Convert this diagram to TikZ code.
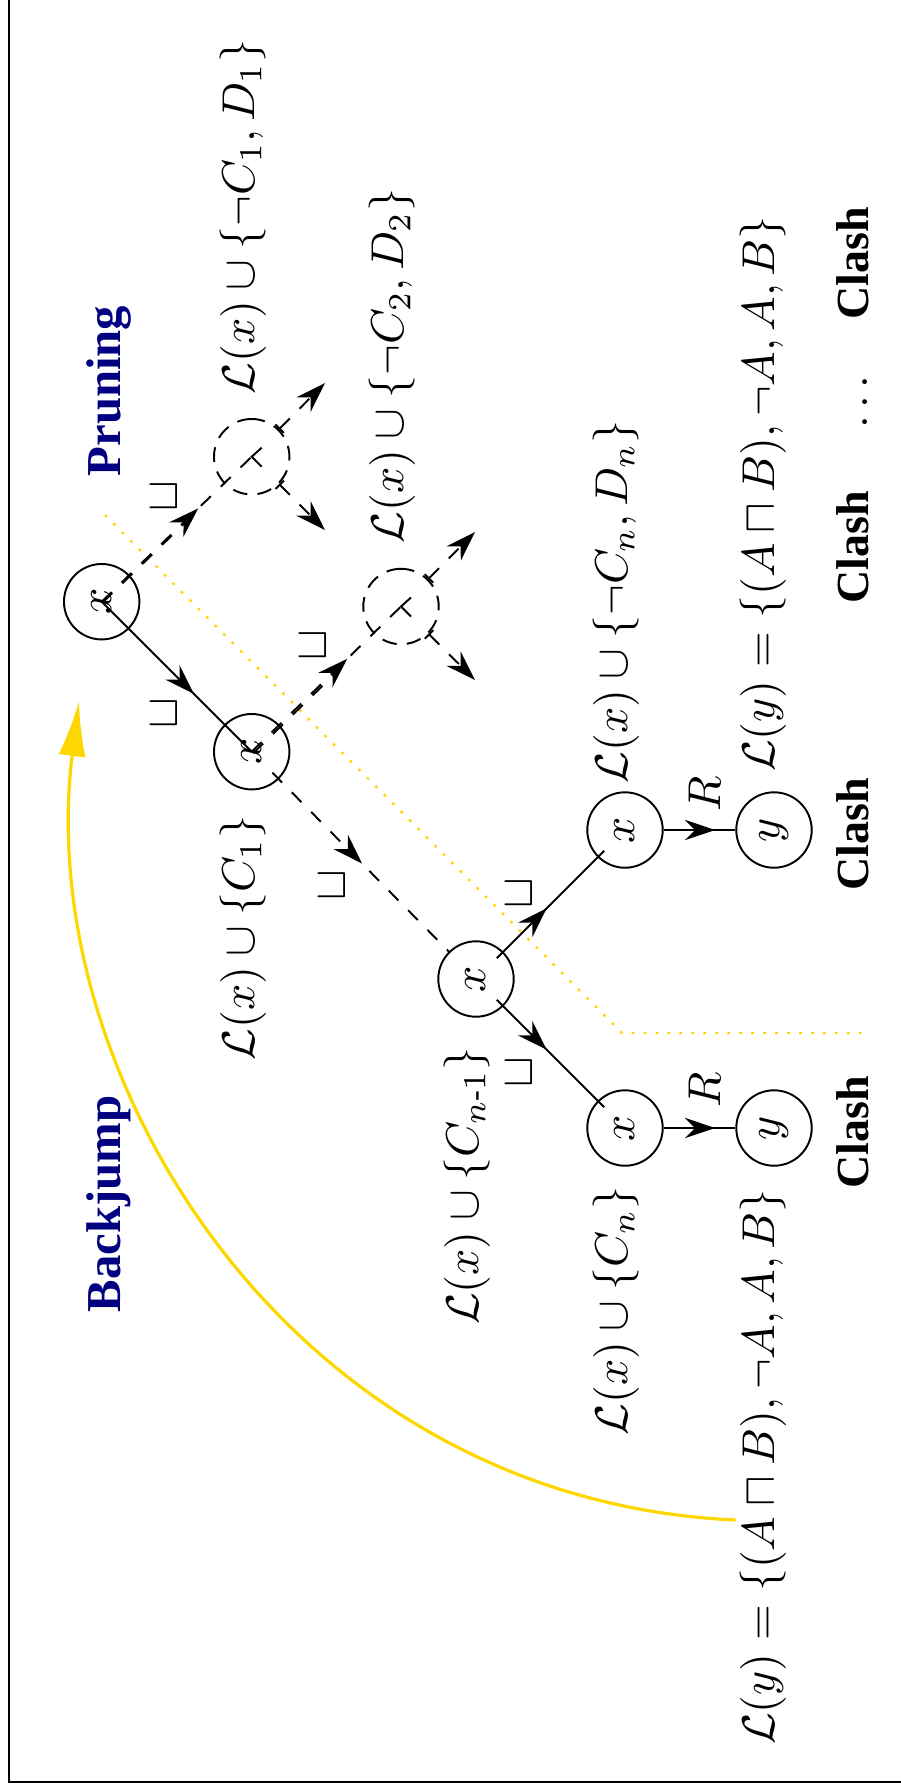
\documentclass[tikz,border=0pt]{standalone}
\usepackage{amsmath}
\usepackage[no-math]{fontspec}
\setmainfont{Liberation Serif}
\usetikzlibrary{arrows.meta,decorations.markings,calc}
\definecolor{navyc}{RGB}{0,0,128}
\definecolor{goldc}{RGB}{255,215,0}
\begin{document}
\begin{tikzpicture}[x=0.2174pt, y=-0.2174pt,
  vnode/.style={circle, draw, line width=0.42pt, minimum size=16.4pt, inner sep=0pt, rotate=90},
  dnode/.style={vnode, dash pattern=on 3.2pt off 2.2pt},
  lbl/.style={rotate=90, inner sep=0pt},
  boldlbl/.style={rotate=90, inner sep=0pt, font=\bfseries},
  titlelbl/.style={rotate=90, inner sep=0pt, text=navyc, font=\bfseries\fontsize{10.6}{12}\selectfont},
  solidln/.style={line width=0.42pt},
  dashln/.style={line width=0.42pt, dash pattern=on 3pt off 3pt},
  midarrow/.style={postaction={decorate}, decoration={markings, mark=at position #1 with {\arrow{Stealth[length=6.6pt,width=4.4pt,inset=2.2pt]}}}},
  endtip/.style={{Bar[width=2.6pt]}-{Stealth[length=6.6pt,width=4.4pt,inset=2.2pt]}},
]
\useasboundingbox (0,0) rectangle (901,1789);
% frame
\draw[line width=0.45pt] (8.7,0) -- (8.7,1781.7) -- (901,1781.7);

% yellow dotted pruning boundary
\coordinate (p1) at (105,515);
\coordinate (p2) at (622,1033);
\coordinate (p3) at (866,1033);
\draw[goldc, line width=0.5pt, dash pattern=on 0.6pt off 2pt] (p1) -- (p2) -- (p3);

% nodes
\node[vnode] (n1) at (101.7,601.7) {$x$};
\node[vnode] (n2) at (251.7,751.7) {$x$};
\node[dnode] (d1) at (251.7,456.7) {};
\node[dnode] (d2) at (401,606.5) {};
\node[vnode] (n3) at (476,979) {$x$};
\node[vnode] (n4) at (625,830) {$x$};
\node[vnode] (n5) at (625,1128) {$x$};
\node[vnode] (y1) at (774,830) {$y$};
\node[vnode] (y2) at (774,1128) {$y$};

\coordinate (d1a) at (325,383);
\coordinate (d1b) at (325,530);
\coordinate (d2a) at (475,532);
\coordinate (d2b) at (475,680);

% edges
\draw[solidln, midarrow=0.615] (n1.center) -- (n2.center);
\draw[dashln, midarrow=0.644] (n1.center) -- (d1.center);
\draw[dashln, transform canvas={shift={(0.8,0.8)}}] (n1.center) -- ($(n1.center)!0.6!(d1.center)$);
\draw[dashln, midarrow=0.64] (n2.center) -- (d2.center);
\draw[dashln, transform canvas={shift={(1.5,1.5)}}] (n2.center) -- ($(n2.center)!0.6!(d2.center)$);
\draw[dashln, midarrow=0.49, shorten <=-2pt] (n2) -- (n3);
\draw[solidln, midarrow=0.46, shorten <=-2pt, shorten >=-2pt] (n3) -- (n4);
\draw[solidln, midarrow=0.46, shorten <=-2pt, shorten >=-2pt] (n3) -- (n5);
\draw[solidln, midarrow=0.72] (n4) -- (y1);
\draw[solidln, midarrow=0.72] (n5) -- (y2);
\draw[dashln, endtip] (d1) -- (d1a);
\draw[dashln, endtip] (d1) -- (d1b);
\draw[dashln, endtip] (d2) -- (d2a);
\draw[dashln, endtip] (d2) -- (d2b);
\draw[solidln] ([shift={(10,-9)}]d1.center) -- (d1.center) -- ([shift={(10,10)}]d1.center);
\draw[solidln] ([shift={(10,-9)}]d2.center) -- (d2.center) -- ([shift={(10,10)}]d2.center);

% edge labels
\node[lbl] (s1) at (165,713) {$\sqcup$};
\node[lbl] (s2) at (165,496) {$\sqcup$};
\node[lbl] (s3) at (314,645) {$\sqcup$};
\node[lbl] (s4) at (333,885) {$\sqcup$};
\node[lbl] (s5) at (520,893) {$\sqcup$};
\node[lbl] (s6) at (520,1072) {$\sqcup$};
\node[lbl] (r1) at (705,794) {$R$};
\node[lbl] (r2) at (705,1090) {$R$};

% label sets
\node[lbl] (t1) at (243,217) {$\mathcal{L}(x)\cup\{\neg C_1, D_1\}$};
\node[lbl] (t2) at (392,366) {$\mathcal{L}(x)\cup\{\neg C_2, D_2\}$};
\node[lbl] (t3) at (616,602) {$\mathcal{L}(x)\cup\{\neg C_n, D_n\}$};
\node[lbl] (t4) at (763,494) {$\mathcal{L}(y)=\{(A\sqcap B),\neg A,A,B\}$};
\node[lbl] (t5) at (243,938) {$\mathcal{L}(x)\cup\{C_1\}$};
\node[lbl] (t6) at (467,1186) {$\mathcal{L}(x)\cup\{C_{n\text{-}1}\}$};
\node[lbl] (t7) at (616,1311) {$\mathcal{L}(x)\cup\{C_n\}$};
\node[lbl] (t8) at (763,1467) {$\mathcal{L}(y)=\{(A\sqcap B),\neg A,A,B\}$};

% clashes
\node[boldlbl] (c1) at (853,263) {Clash};
\node[lbl, anchor=base] (dots) at (867,402) {$\ldots$};
\node[boldlbl] (c2) at (853,547) {Clash};
\node[boldlbl] (c3) at (853,834) {Clash};
\node[boldlbl] (c4) at (853,1132) {Clash};

% titles
\node[titlelbl] (pr) at (109,391) {Pruning};
\node[titlelbl] (bj) at (109,1204) {Backjump};

% backjump arrow
\coordinate (bjs) at (735.6,1520);
\coordinate (bje) at (79,701);
\draw[goldc, line width=0.7pt, -{Latex[length=12pt,width=5.9pt]}] (bjs) .. controls (290,1500) and (32,1075) .. (bje);
\end{tikzpicture}
\end{document}
